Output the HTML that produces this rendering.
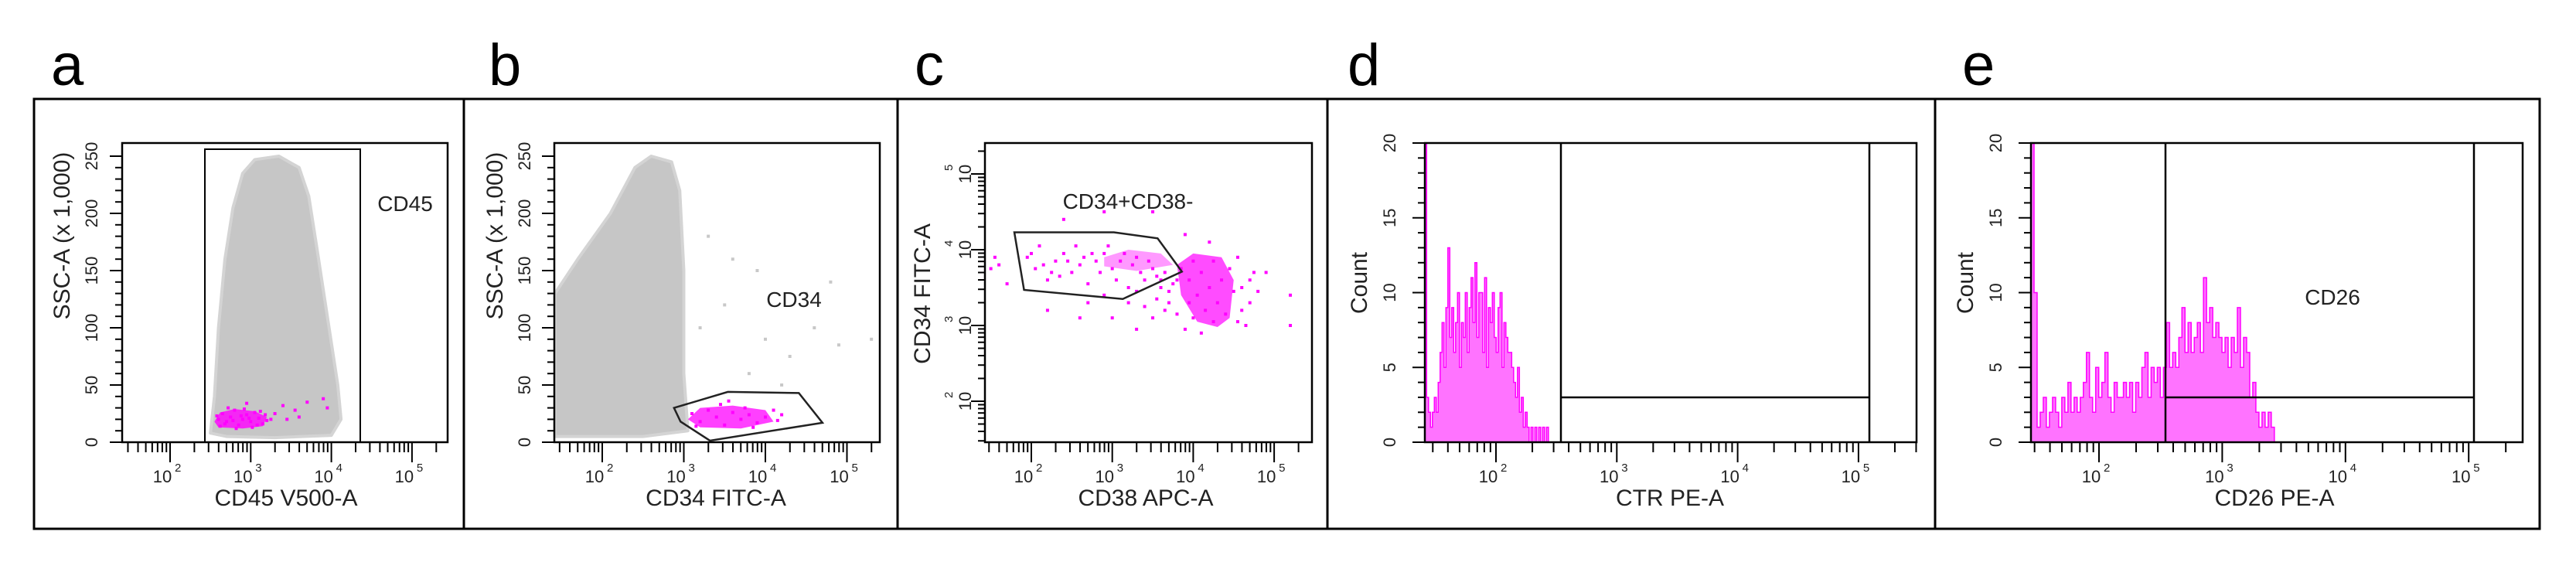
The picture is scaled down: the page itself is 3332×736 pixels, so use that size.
<!DOCTYPE html>
<html><head><meta charset="utf-8"><style>
html,body{margin:0;padding:0;background:#fff;}
svg{display:block;font-family:"Liberation Sans",Arial,sans-serif;}
</style></head><body>
<svg id="fig" width="3332" height="736" viewBox="0 0 3332 736" xmlns="http://www.w3.org/2000/svg"></svg>
<script>
// ===== DATA =====
const aCloud = [[2.5,8],[2.55,40],[2.6,100],[2.68,160],[2.78,205],[2.9,235],[3.05,247],[3.35,250],[3.6,240],[3.72,215],[3.82,170],[3.95,110],[4.08,50],[4.12,20],[4.0,6],[3.3,4],[2.7,5]];
const aBlob = [[2.55,18],[2.62,26],[2.8,29],[3.05,27],[3.2,22],[3.15,14],[2.9,12],[2.6,13]];
const aPoints = [[2.6,20],[2.65,25],[2.7,18],[2.75,22],[2.8,28],[2.85,15],[2.9,20],[2.95,24],[3.0,18],[3.05,26],[3.1,21],[3.15,16],[2.62,14],[2.72,30],[2.82,12],[2.92,29],[3.02,13],[3.12,27],[3.2,19],[2.58,23],[2.68,16],[2.78,19],[2.88,23],[2.98,21],[3.08,15],[3.18,24],[3.25,20],[3.4,32],[3.55,28],[3.7,35],[3.9,38],[3.95,30],[3.3,25],[3.6,22],[2.95,34],[3.45,20]];
const bCloud = [[1.42,5],[1.42,130],[1.7,160],[2.1,200],[2.4,240],[2.6,250],[2.85,245],[2.95,220],[3.0,150],[3.0,60],[3.05,10],[2.5,5]];
const bSparse = [[3.5,120],[4.0,90],[4.6,100],[4.8,140],[3.8,60],[4.3,75],[3.3,180],[4.9,85],[3.6,160],[4.2,50],[5.3,90],[4.5,130],[3.2,100],[3.9,150]];
const bGate = [[2.88,30],[3.54,44],[4.41,43],[4.70,17],[3.32,1.4],[2.96,18]];
const bBlob = [[3.05,20],[3.2,30],[3.6,32],[4.0,28],[4.1,18],[3.7,12],[3.2,13]];
const bPoints = [[3.1,25],[3.2,18],[3.3,28],[3.4,22],[3.5,15],[3.6,26],[3.7,20],[3.8,24],[3.9,17],[4.0,22],[4.1,28],[3.45,33],[3.75,30],[3.15,14],[4.15,19],[3.55,36],[3.85,13],[4.2,24]];
const cGate = [[1.79,4.23],[3.02,4.23],[3.56,4.15],[3.86,3.71],[3.13,3.35],[1.91,3.47]];
const cDense = [[3.8,3.8],[4.0,3.95],[4.35,3.9],[4.5,3.6],[4.45,3.1],[4.3,2.98],[4.05,3.05],[3.85,3.4]];
const cMid = [[2.9,3.9],[3.2,4.0],[3.6,3.95],[3.75,3.8],[3.3,3.72],[2.9,3.78]];
const cPoints = [[1.95,3.9],[2.05,3.75],[2.1,4.05],[2.2,3.6],[2.3,3.85],[2.4,3.95],[2.5,3.7],[2.55,4.05],[2.6,3.8],[2.7,3.55],[2.75,3.95],[2.85,3.7],[2.95,4.05],[3.05,3.6],[3.1,3.85],[3.2,3.5],[3.3,3.9],[3.4,3.6],[3.5,3.75],[3.6,3.5],[3.7,3.3],[3.8,3.6],[3.65,3.2],[3.5,3.1],[3.4,3.25],[3.9,2.95],[4.1,2.9],[4.6,3.2],[4.7,3.6],[4.55,3.9],[1.6,3.8],[1.55,3.9],[2.9,4.5],[3.5,4.5],[2.4,4.4],[2.6,3.1],[3.0,3.1],[4.9,3.7],[5.2,3.4],[5.2,3.0],[4.2,4.1],[3.9,4.2],[2.2,3.2],[3.3,2.95],
[2.0,3.95],[2.15,3.8],[2.25,3.7],[2.35,3.65],[2.45,3.85],[2.65,3.9],[2.8,3.85],[2.9,3.95],[3.0,3.75],[3.15,3.95],[3.25,3.8],[3.35,3.7],[3.45,3.85],[3.55,3.65],[3.65,3.7],[3.75,3.55],[3.85,3.75],[3.95,3.6],[4.0,3.85],[4.05,3.4],[4.1,3.7],[4.15,3.2],[4.2,3.5],[4.25,3.85],[4.3,3.3],[4.35,3.6],[4.4,3.15],[4.45,3.75],[4.5,3.45],[4.6,3.5],[4.65,3.0],[4.7,3.3],[4.75,3.7],[4.8,3.45],[3.55,3.35],[3.7,3.45],[3.8,3.15],[3.95,3.3],[3.6,3.6],[3.3,3.45],[3.2,3.3],[4.0,3.1],[4.55,3.05],[4.25,3.05],[2.7,3.3],[2.9,3.4],[1.5,3.75],[1.7,3.55]];
const dStart = 1.41, dBinW = 0.016;
const dCounts = [25,3,2,1,2,3,2,4,6,8,5,9,13,7,9,6,8,10,5,8,7,10,6,9,11,8,12,7,10,10,6,11,5,9,8,10,7,6,9,10,5,8,7,6,6,5,4,3,5,2,3,1,2,1,0,1,0,1,0,1,0,1,0,1];
const eStart = 1.448, eBinW = 0.025;
const eCounts = [25,10,1,2,3,1,2,3,2,1,3,2,4,2,3,2,3,4,6,3,2,5,3,4,6,3,2,4,3,3,4,3,4,2,4,3,5,6,3,5,4,5,3,5,8,5,6,5,7,9,6,8,6,7,8,6,11,8,9,7,8,7,6,7,5,7,6,9,5,7,6,3,4,2,1,2,1,2,1];
const decades = [2,3,4,5];
const linTicksSSC = [0,50,100,150,200,250];
const countTicks = [0,5,10,15,20];

// ===== HELPERS =====
const NS = "http://www.w3.org/2000/svg";
const svg = document.getElementById('fig');
function mk(tag, attrs, parent){ const e=document.createElementNS(NS,tag); for(const k in attrs) e.setAttribute(k,attrs[k]); (parent||svg).appendChild(e); return e; }
function txt(s, attrs, parent){ const e=mk('text',attrs,parent); e.textContent=s; return e; }

function panelFrame(name,x0,x1,letter,lx){
  const g=mk('g',{});
  
  
  const r=mk('rect',{x:x0,y:128,width:x1-x0,height:556,fill:'none',stroke:'#000','stroke-width':3},g);
  
  
  const t=txt(letter,{x:lx,y:110,'font-size':76,fill:'#000'},g);
  
  
  return g;
}
function plotBox(g,name,L,R,T,B){
  const r=mk('rect',{x:L,y:T,width:R-L,height:B-T,fill:'none',stroke:'#000','stroke-width':2.5},g);
  
  
}
function logXAxis(g,name,sx,L,R,B,title,titleX){
  const ax=mk('g',{},g);
  
  
  for(let n=1;n<=5;n++){ for(let k=1;k<10;k++){ const l=n+Math.log10(k); const x=sx(l); if(x<L-1||x>R+1) continue;
    mk('line',{x1:x,x2:x,y1:B,y2:B+(k===1?26:13),stroke:'#000','stroke-width':2},ax);} }
  decades.forEach(d=>{ const x=sx(d); if(x<L||x>R) return;
    const t=txt('10',{x:x-10,y:B+52,'font-size':22,'text-anchor':'middle',fill:'#222'},ax);
    
    
    txt(String(d),{x:x+6,y:B+38,'font-size':15,fill:'#222'},ax); });
  const tt=txt(title,{x:titleX,y:B+82,'font-size':30,'text-anchor':'middle',fill:'#222'},ax);
  
  
}
function linYAxis(g,name,sy,L,ticks,minorStep,maxV,labelX,title,titleX,titleY){
  const ax=mk('g',{},g);
  
  
  for(let v=0;v<=maxV+1e-9;v+=minorStep){ const y=sy(v); mk('line',{x1:L-(Math.abs(v%ticks[1])<1e-9?16:9),x2:L,y1:y,y2:y,stroke:'#000','stroke-width':2},ax); }
  ticks.forEach(v=>{ const y=sy(v);
    const t=txt(String(v),{x:labelX,y:y,'font-size':22,'text-anchor':'middle',fill:'#222',transform:`rotate(-90 ${labelX} ${y})`},ax);
    
     });
  const tt=txt(title,{x:titleX,y:titleY,'font-size':30,'text-anchor':'middle',fill:'#222',transform:`rotate(-90 ${titleX} ${titleY})`},ax);
  
  
}
function poly(g,pts,sx,sy,attrs,nm){
  const p=mk('polygon',Object.assign({points:pts.map(p=>sx(p[0])+','+sy(p[1])).join(' ')},attrs),g);
  
  
  return p;
}
function dots(g,pts,sx,sy,color,nm){
  const grp=mk('g',{},g);
  
  
  pts.forEach(p=>{ mk('rect',{x:sx(p[0])-2,y:sy(p[1])-2,width:4,height:4,fill:color},grp); });
}
function clip(id,L,T,R,B){ const c=mk('clipPath',{id:id}); mk('rect',{x:L,y:T,width:R-L,height:B-T},c); }

const T=185,B=572;
// ===== Panel a =====
(function(){
  const L=158,R=579;
  const sx=l=>220+(l-2)*104.3, sy=v=>572-v*1.48;
  const g=panelFrame('a',44,600,'a',66);
  poly(g,aCloud,sx,sy,{fill:'#c6c6c6','stroke':'#d4d4d4','stroke-width':4,'stroke-linejoin':'round'},'cd45-gray-cloud');
  poly(g,aBlob,sx,sy,{fill:'#ff00ff',opacity:0.8},'cd34-magenta-cluster');
  dots(g,aPoints,sx,sy,'#ff00ff','magenta-events-a');
  const gate=mk('rect',{x:265,y:193,width:201,height:B-193,fill:'none',stroke:'#000','stroke-width':2},g);
  
  
  const gl=txt('CD45',{x:524,y:273,'font-size':28,'text-anchor':'middle',fill:'#222'},g);
  
  
  plotBox(g,'a',L,R,T,B);
  logXAxis(g,'a',sx,L,R,B,'CD45 V500-A',370);
  linYAxis(g,'a',sy,L,linTicksSSC,10,250,126,'SSC-A    (x 1,000)',90,305);
})();
// ===== Panel b =====
(function(){
  const L=717,R=1138;
  const sx=l=>779+(l-2)*105.5, sy=v=>572-v*1.48;
  const g=panelFrame('b',600,1161,'b',632);
  poly(g,bCloud,sx,sy,{fill:'#c6c6c6','stroke':'#d4d4d4','stroke-width':4,'stroke-linejoin':'round'},'gray-cloud-b');
  dots(g,bSparse,sx,sy,'#c8c8c8','sparse-gray-events-b');
  poly(g,bBlob,sx,sy,{fill:'#ff00ff',opacity:0.75},'cd34-magenta-cluster-b');
  dots(g,bPoints,sx,sy,'#ff00ff','magenta-events-b');
  const gp=poly(g,bGate,sx,sy,{fill:'none',stroke:'#222','stroke-width':2.5},'cd34-gate');
  
  const gl=txt('CD34',{x:1027,y:397,'font-size':28,'text-anchor':'middle',fill:'#222'},g);
  
  
  plotBox(g,'b',L,R,T,B);
  logXAxis(g,'b',sx,L,R,B,'CD34 FITC-A',926);
  linYAxis(g,'b',sy,L,linTicksSSC,10,250,686,'SSC-A    (x 1,000)',650,305);
})();
// ===== Panel c =====
(function(){
  const L=1274,R=1697;
  const sx=l=>1334+(l-2)*104.7, sy=l=>519-(l-2)*98;
  const g=panelFrame('c',1161,1717,'c',1183);
  clip('clipc',L,T,R,B);
  const inner=mk('g',{'clip-path':'url(#clipc)'},g);
  poly(inner,cMid,sx,sy,{fill:'#ff00ff',opacity:0.4},'cd34-cd38-mid-density');
  poly(inner,cDense,sx,sy,{fill:'#ff00ff',opacity:0.7},'cd38-positive-dense');
  dots(inner,cPoints,sx,sy,'#ff00ff','magenta-events-c');
  const gp=poly(g,cGate,sx,sy,{fill:'none',stroke:'#222','stroke-width':2.5},'cd34-cd38neg-gate');
  
  const gl=txt('CD34+CD38-',{x:1459,y:270,'font-size':28,'text-anchor':'middle',fill:'#222'},g);
  
  
  plotBox(g,'c',L,R,T,B);
  logXAxis(g,'c',sx,L,R,B,'CD38 APC-A',1482);
  const ax=mk('g',{},g);
  
  
  for(let n=1;n<=5;n++){ for(let k=1;k<10;k++){ const l=n+Math.log10(k); const y=sy(l); if(y<T-1||y>B+1) continue;
    mk('line',{x1:L-(k===1?18:9),x2:L,y1:y,y2:y,stroke:'#000','stroke-width':2},ax);} }
  decades.forEach(d=>{ const y=sy(d); const xx=1246;
    const t=txt('10',{x:xx,y:y+10,'font-size':22,'text-anchor':'middle',fill:'#222',transform:`rotate(-90 ${xx} ${y})`},ax);
    
    
    txt(String(d),{x:xx-14,y:y-4,'font-size':15,fill:'#222',transform:`rotate(-90 ${xx-14} ${y-4})`},ax); });
  const tt=txt('CD34 FITC-A',{x:1203,y:380,'font-size':30,'text-anchor':'middle',fill:'#222',transform:'rotate(-90 1203 380)'},ax);
  
  
})();
// ===== Histograms =====
function histogram(name,L,R,x0,x1,letter,lx,sx,start,bw,counts,gateL,gateR,title,titleX,labelText){
  const sy=v=>572-v*19.35;
  const g=panelFrame(name,x0,x1,letter,lx);
  clip('clip'+name,L,T,R,B);
  const inner=mk('g',{'clip-path':'url(#clip'+name+')'},g);
  let d='M'+sx(start)+','+sy(0);
  counts.forEach((c,i)=>{ const xa=sx(start+i*bw), xb=sx(start+(i+1)*bw); d+=' L'+xa+','+sy(c)+' L'+xb+','+sy(c); });
  d+=' L'+sx(start+counts.length*bw)+','+sy(0)+' Z';
  const p=mk('path',{d:d,fill:'rgba(255,0,255,0.55)',stroke:'#ff00ff','stroke-width':1.5},inner);
  
  
  const gate=mk('path',{d:`M${gateL},${T} L${gateL},${B} M${gateR},${T} L${gateR},${B} M${gateL},${sy(3)} L${gateR},${sy(3)}`,fill:'none',stroke:'#000','stroke-width':2.5},g);
  
  
  if(labelText){ const t=txt(labelText,{x:3017,y:394,'font-size':28,'text-anchor':'middle',fill:'#222'},g);
    
     }
  plotBox(g,name,L,R,T,B);
  logXAxis(g,name,sx,L,R,B,title,titleX);
  linYAxis(g,name,sy,L,countTicks,1,20,L-38,'Count',L-75,366);
}
histogram('d',1843,2479,1717,2503,'d',1743,l=>1935+(l-2)*156.3,dStart,dBinW,dCounts,2019,2418,'CTR PE-A',2160,null);
histogram('e',2627,3263,2503,3285,'e',2538,l=>2715+(l-2)*159.4,eStart,eBinW,eCounts,2801,3200,'CD26 PE-A',2942,'CD26');
</script>
</body></html>
